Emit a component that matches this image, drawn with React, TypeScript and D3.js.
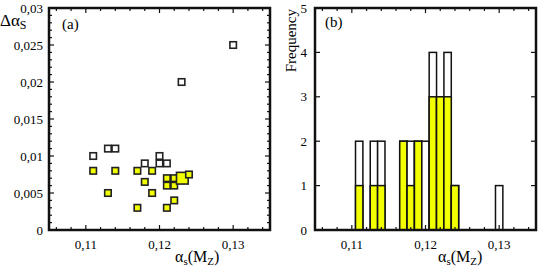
import React from 'react';
import * as d3 from 'd3';

// (alpha_s, delta alpha_s) for the two groups, n = number of coinciding points
const openPts = [
  { a: 0.111, d: 0.010 }, { a: 0.113, d: 0.011 }, { a: 0.114, d: 0.011 },
  { a: 0.118, d: 0.009 }, { a: 0.120, d: 0.010 }, { a: 0.120, d: 0.009 },
  { a: 0.121, d: 0.009 }, { a: 0.123, d: 0.020 }, { a: 0.130, d: 0.025 },
];
const filledPts = [
  { a: 0.111, d: 0.008, n: 1 }, { a: 0.113, d: 0.005, n: 1 }, { a: 0.114, d: 0.008, n: 1 },
  { a: 0.117, d: 0.008, n: 1 }, { a: 0.117, d: 0.003, n: 1 }, { a: 0.118, d: 0.0065, n: 1 },
  { a: 0.119, d: 0.008, n: 1 }, { a: 0.119, d: 0.005, n: 1 }, { a: 0.121, d: 0.007, n: 1 },
  { a: 0.121, d: 0.006, n: 1 }, { a: 0.121, d: 0.003, n: 1 }, { a: 0.122, d: 0.007, n: 1 },
  { a: 0.122, d: 0.006, n: 1 }, { a: 0.122, d: 0.004, n: 1 }, { a: 0.1231, d: 0.007, n: 3 },
  { a: 0.124, d: 0.0075, n: 1 },
];

// histogram: bin centre, total count, filled count
const binCentres = [0.111, 0.113, 0.114, 0.117, 0.118, 0.119, 0.120, 0.121, 0.122, 0.123, 0.124, 0.130];
const binTotal = [2, 2, 2, 2, 2, 2, 2, 4, 3, 4, 1, 1];
const binFilled = [1, 1, 1, 2, 1, 2, 0, 3, 3, 3, 1, 0];

const xTicks = [0.11, 0.12, 0.13];
const leftYTicks = [0, 0.005, 0.01, 0.015, 0.02, 0.025, 0.03];
const leftYLabels = ['0', '0,005', '0,01', '0,015', '0,02', '0,025', '0,03'];
const rightYTicks = [0, 1, 2, 3, 4, 5];

const YELLOW = '#f2ff00';
const FONT = 'Liberation Serif, Times New Roman, Times, serif';
const fmtX = (v: number) => String(v).replace('.', ',');

const top = 8, bottom = 230;

function Frame({ x0, y, minorY, majorY }: any) {
  const xMinor = d3.range(0.106, 0.135, 0.002);
  const ticks: JSX.Element[] = [];
  xMinor.forEach((v, i) => {
    const px = x0(v);
    const major = Math.abs(v * 100 - Math.round(v * 100)) < 1e-6;
    const len = major ? 5 : 3;
    ticks.push(<line key={'b' + i} x1={px} x2={px} y1={bottom} y2={bottom - len} />);
    ticks.push(<line key={'t' + i} x1={px} x2={px} y1={top} y2={top + len} />);
  });
  const [l, r] = x0.range();
  majorY.forEach((v: number, i: number) => {
    const py = y(v);
    ticks.push(<line key={'l' + i} x1={l} x2={l + 5} y1={py} y2={py} />);
    ticks.push(<line key={'r' + i} x1={r} x2={r - 5} y1={py} y2={py} />);
  });
  minorY.forEach((v: number, i: number) => {
    const py = y(v);
    ticks.push(<line key={'ml' + i} x1={l} x2={l + 3} y1={py} y2={py} />);
    ticks.push(<line key={'mr' + i} x1={r} x2={r - 3} y1={py} y2={py} />);
  });
  return (
    <g>
      <g stroke="#111" strokeWidth={1.2}>{ticks}</g>
      <rect x={l} y={top} width={r - l} height={bottom - top} fill="none" stroke="#111" strokeWidth={2.5} />
    </g>
  );
}

function XTitle({ x }: { x: number }) {
  return (
    <text x={x} y={262} fontSize={16} fontFamily={FONT} textAnchor="start">
      α<tspan fontSize={11} dy={3}>s</tspan><tspan dy={-3}>(M</tspan>
      <tspan fontSize={11} dy={3}>Z</tspan><tspan dy={-3}>)</tspan>
    </text>
  );
}

export default function App() {
  const xa = d3.scaleLinear().domain([0.105, 0.135]).range([49, 270]);
  const ya = d3.scaleLinear().domain([0, 0.03]).range([bottom, top]);
  const xb = d3.scaleLinear().domain([0.105, 0.135]).range([315, 536]);
  const yb = d3.scaleLinear().domain([0, 5]).range([bottom, top]);

  const leftMinor = d3.range(0.001, 0.03, 0.001).filter(v => Math.abs(v * 200 - Math.round(v * 200)) > 1e-6);
  const s = 6.5;

  return (
    <svg width={538} height={273} style={{ position: 'absolute', left: 0, top: 0, background: '#fff' }}>
      {/* panel (a) */}
      <Frame x0={xa} y={ya} majorY={leftYTicks} minorY={leftMinor} />
      {leftYTicks.map((v, i) => (
        <text key={i} x={43} y={ya(v)} dy="0.35em" textAnchor="end" fontSize={13} fontFamily={FONT}>{leftYLabels[i]}</text>
      ))}
      {xTicks.map((v, i) => (
        <text key={i} x={xa(v)} y={249} textAnchor="middle" fontSize={13} fontFamily={FONT}>{fmtX(v)}</text>
      ))}
      <text x={0} y={26} fontSize={17} fontFamily={FONT}>Δα<tspan fontSize={12} dy={3}>S</tspan></text>
      <text x={62} y={29} fontSize={15} fontFamily={FONT}>(a)</text>
      <XTitle x={175} />
      <g stroke="#222" strokeWidth={1.6}>
        {openPts.map((p, i) => (
          <rect key={'o' + i} x={xa(p.a) - s / 2} y={ya(p.d) - s / 2} width={s} height={s} fill="#fff" />
        ))}
        {filledPts.map((p, i) => {
          const w = p.n > 1 ? s * 1.8 : s;
          return <rect key={'f' + i} x={xa(p.a) - w / 2} y={ya(p.d) - w / 2} width={w} height={w} fill={YELLOW} />;
        })}
      </g>

      {/* panel (b) */}
      <g stroke="#111" strokeWidth={1.5}>
        {binCentres.map((c, i) => {
          const x0 = xb(c - 0.0005), x1 = xb(c + 0.0005);
          return (
            <g key={i}>
              <rect x={x0} y={yb(binTotal[i])} width={x1 - x0} height={yb(0) - yb(binTotal[i])} fill="#fff" />
              {binFilled[i] > 0 && (
                <rect x={x0} y={yb(binFilled[i])} width={x1 - x0} height={yb(0) - yb(binFilled[i])} fill={YELLOW} />
              )}
            </g>
          );
        })}
      </g>
      <Frame x0={xb} y={yb} majorY={rightYTicks} minorY={[]} />
      {rightYTicks.map((v, i) => (
        <text key={i} x={307} y={yb(v)} dy="0.35em" textAnchor="end" fontSize={13} fontFamily={FONT}>{v}</text>
      ))}
      {xTicks.map((v, i) => (
        <text key={i} x={xb(v)} y={249} textAnchor="middle" fontSize={13} fontFamily={FONT}>{fmtX(v)}</text>
      ))}
      <text transform="translate(296,9) rotate(-90)" textAnchor="end" fontSize={15} fontFamily={FONT}>Frequency</text>
      <text x={325} y={27} fontSize={15} fontFamily={FONT}>(b)</text>
      <XTitle x={438} />
    </svg>
  );
}
